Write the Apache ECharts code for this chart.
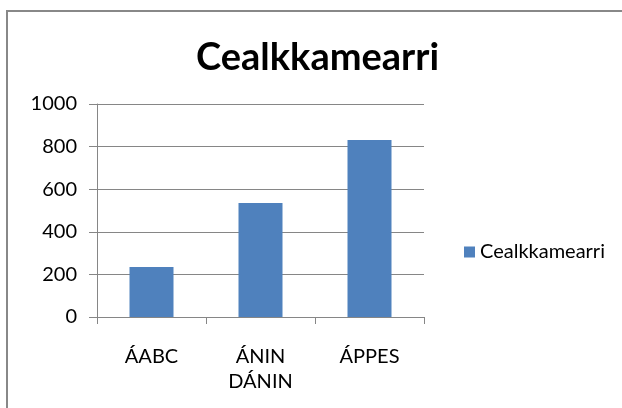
<!DOCTYPE html>
<html>
<head>
<meta charset="utf-8">
<script src="https://cdn.jsdelivr.net/npm/echarts@6/dist/echarts.min.js"></script>
<style>
  html, body { margin: 0; padding: 0; background: #fff; }
  #chart { width: 622px; height: 408px; }
</style>
</head>
<body>
<div id="chart"></div>
<script>
const categories = ["ÁABC", "ÁNIN\nDÁNIN", "ÁPPES"];
const values = [235, 535, 831];
const seriesName = "Cealkkamearri";
const chartTitle = "Cealkkamearri";

const chart = echarts.init(document.getElementById("chart"));
const font = "Lato";

chart.setOption({
  animation: false,
  title: {
    text: chartTitle,
    left: 191,
    top: 34,
    textStyle: { fontFamily: font, fontWeight: "bold", fontSize: 38, color: "#000" },
  },
  legend: {
    left: 459,
    top: 237,
    orient: "vertical",
    itemWidth: 11,
    itemHeight: 11,
    icon: "rect",
    textStyle: { fontFamily: font, fontSize: 20, color: "#000" },
  },
  grid: { left: 97, right: 198, top: 104, bottom: 91 },
  xAxis: {
    type: "category",
    data: categories,
    axisLine: { lineStyle: { color: "#868686", width: 1 } },
    axisTick: { show: true, length: 7, lineStyle: { color: "#868686" } },
    axisLabel: { fontFamily: font, fontSize: 20, color: "#000", margin: 27, lineHeight: 25 },
  },
  yAxis: {
    type: "value",
    min: 0,
    max: 1000,
    interval: 200,
    axisLine: { show: true, lineStyle: { color: "#868686", width: 1 } },
    axisTick: { show: true, length: 8, lineStyle: { color: "#868686" } },
    splitLine: { lineStyle: { color: "#868686", width: 1 } },
    axisLabel: { fontFamily: font, fontSize: 20, color: "#000", margin: 20, formatter: (v) => String(v) },
  },
  series: [
    {
      name: seriesName,
      type: "bar",
      data: values,
      barWidth: 44,
      itemStyle: { color: "#4F81BD" },
    },
  ],
  graphic: [
    {
      type: "rect",
      shape: { x: 7, y: 11, width: 700, height: 500 },
      style: { fill: null, stroke: "#888", lineWidth: 2 },
      silent: true,
    },
  ],
});
</script>
</body>
</html>
